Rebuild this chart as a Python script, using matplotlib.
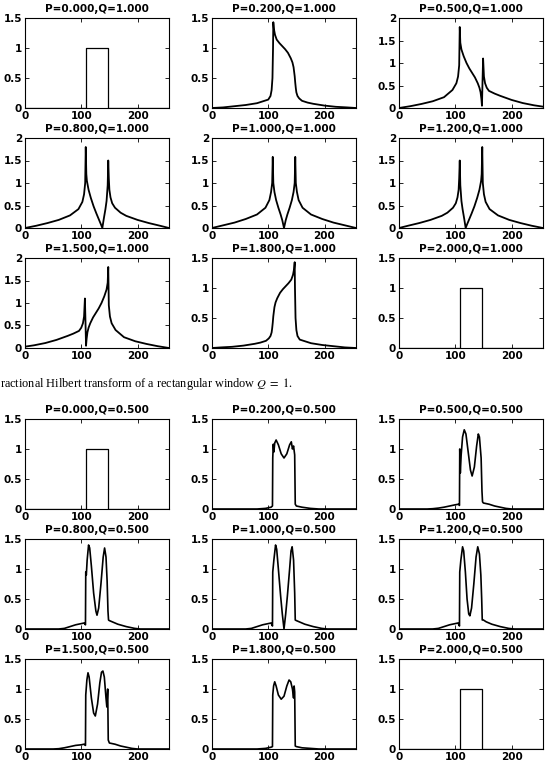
import numpy as np
import matplotlib.pyplot as plt

plt.rcParams['font.family'] = 'DejaVu Sans'
plt.rcParams['mathtext.fontset'] = 'stix'

# rectangular window (P=0 and P=2)
rect_x = [0, 108, 108, 148, 148, 256]
rect_y = [0, 0, 1, 1, 0, 0]

# ---------------- Q = 1.000 ----------------
q1_p02_x = [0, 20, 40, 60, 80, 90, 100, 104, 106, 107.5, 108.5, 109, 110, 112, 115, 120, 125, 130, 135, 140,
            143, 145, 147, 148, 149, 150, 152, 155, 160, 170, 180, 200, 220, 240, 256]
q1_p02_y = [0, 0.01, 0.03, 0.05, 0.08, 0.11, 0.14, 0.2, 0.3, 0.5, 1.0, 1.43, 1.32, 1.22, 1.14, 1.08, 1.03, 0.98, 0.92, 0.83,
            0.76, 0.68, 0.53, 0.42, 0.33, 0.26, 0.2, 0.16, 0.12, 0.09, 0.07, 0.04, 0.02, 0.01, 0]

q1_p05_x = [0, 20, 40, 60, 80, 95, 102, 105, 107, 108, 109, 111, 115, 120, 125, 130, 135, 140, 143, 145,
            146.5, 147.5, 148.5, 149.5, 151, 153, 156, 160, 170, 180, 200, 220, 240, 256]
q1_p05_y = [0, 0.04, 0.09, 0.15, 0.24, 0.4, 0.55, 0.7, 0.95, 1.8, 1.45, 1.3, 1.15, 1.0, 0.88, 0.78, 0.68, 0.55, 0.45, 0.35,
            0.2, 0.05, 0.6, 1.1, 0.7, 0.55, 0.45, 0.38, 0.32, 0.27, 0.18, 0.11, 0.06, 0.03]

q1_p08_x = [0, 20, 40, 60, 80, 95, 102, 105, 107, 108, 109, 110, 113, 117, 122, 127, 132, 135, 137.5, 140,
            143, 145, 147, 148, 149, 150, 152, 155, 160, 170, 180, 200, 220, 240, 256]
q1_p08_y = [0, 0.05, 0.11, 0.18, 0.28, 0.42, 0.58, 0.75, 1.0, 1.8, 1.2, 1.05, 0.85, 0.67, 0.48, 0.32, 0.17, 0.08, 0.0, 0.2,
            0.42, 0.6, 0.95, 1.5, 1.1, 0.85, 0.68, 0.55, 0.45, 0.34, 0.27, 0.18, 0.11, 0.05, 0]

q1_p10_x = [0, 20, 40, 60, 80, 95, 102, 105, 107, 108, 109, 111, 114, 118, 122, 125, 128, 131, 134, 138,
            142, 145, 147, 148, 149, 151, 154, 161, 176, 196, 216, 236, 256]
q1_p10_y = [0, 0.06, 0.12, 0.2, 0.3, 0.45, 0.62, 0.8, 1.0, 1.58, 1.0, 0.8, 0.62, 0.45, 0.3, 0.17, 0.0, 0.17, 0.3, 0.45,
            0.62, 0.8, 1.0, 1.58, 1.0, 0.8, 0.62, 0.45, 0.3, 0.2, 0.12, 0.06, 0]

q1_p12_x = [0, 16, 36, 56, 76, 86, 96, 101, 104, 106, 107, 108, 109, 111, 113, 116, 118.5, 121, 124, 129,
            134, 139, 143, 146, 147, 148, 149, 151, 154, 161, 176, 196, 216, 236, 256]
q1_p12_y = [0, 0.05, 0.11, 0.18, 0.27, 0.34, 0.45, 0.55, 0.68, 0.85, 1.1, 1.5, 0.95, 0.6, 0.42, 0.2, 0.0, 0.08, 0.17, 0.32,
            0.48, 0.67, 0.85, 1.05, 1.2, 1.8, 1.0, 0.75, 0.58, 0.42, 0.28, 0.18, 0.11, 0.05, 0]

q1_p15_x = [0, 16, 36, 56, 76, 86, 96, 100, 103, 105, 106.5, 107.5, 108.5, 109.5, 111, 113, 116, 121, 126, 131,
            136, 141, 145, 147, 148, 149, 151, 154, 161, 176, 196, 216, 236, 256]
q1_p15_y = [0.03, 0.06, 0.11, 0.18, 0.27, 0.32, 0.38, 0.45, 0.55, 0.7, 1.1, 0.6, 0.05, 0.2, 0.35, 0.45, 0.55, 0.68, 0.78, 0.88,
            1.0, 1.15, 1.3, 1.45, 1.8, 0.95, 0.7, 0.55, 0.4, 0.24, 0.15, 0.09, 0.04, 0]

q1_p18_x = [0, 16, 36, 56, 76, 86, 96, 101, 104, 106, 107, 108, 109, 111, 113, 116, 121, 126, 131, 136,
            141, 144, 146, 147, 147.5, 148.5, 150, 152, 156, 166, 176, 196, 216, 236, 256]
q1_p18_y = [0, 0.01, 0.02, 0.04, 0.07, 0.09, 0.12, 0.16, 0.2, 0.26, 0.33, 0.42, 0.53, 0.68, 0.76, 0.83, 0.92, 0.98, 1.03, 1.08,
            1.14, 1.22, 1.32, 1.43, 1.0, 0.5, 0.3, 0.2, 0.14, 0.11, 0.08, 0.05, 0.03, 0.01, 0]

# ---------------- Q = 0.500 ----------------
q05_p02_x = [0, 80, 95, 105, 107.5, 108, 109, 110, 111.5, 114, 118, 123, 128, 133, 138, 141, 143, 145, 147, 148,
             150, 160, 175, 190, 256]
q05_p02_y = [0, 0, 0.01, 0.03, 0.05, 0.85, 1.08, 0.95, 1.1, 1.15, 1.07, 0.92, 0.85, 0.92, 1.07, 1.12, 1.0, 1.05, 0.9, 0.08,
             0.05, 0.03, 0.01, 0, 0]

q05_p05_x = [0, 50, 60, 70, 80, 90, 100, 106, 107.5, 108, 109, 110.5, 113, 116, 119, 123, 127, 130, 134, 138,
             141, 143, 146, 147.5, 148.5, 150, 160, 170, 180, 190, 200, 256]
q05_p05_y = [0, 0, 0.005, 0.015, 0.03, 0.05, 0.07, 0.08, 0.06, 1.0, 0.6, 0.9, 1.2, 1.32, 1.25, 0.95, 0.65, 0.55, 0.7, 1.05,
             1.25, 1.2, 0.85, 0.3, 0.12, 0.1, 0.08, 0.05, 0.03, 0.01, 0, 0]

q05_p08_x = [0, 60, 70, 80, 90, 100, 105, 107.5, 108, 109, 110.5, 113, 115, 118, 122, 126, 128, 131, 135, 139,
             141.5, 144, 146, 147.5, 148.5, 150, 155, 165, 180, 195, 205, 256]
q05_p08_y = [0, 0, 0.01, 0.04, 0.07, 0.09, 0.1, 0.07, 0.95, 0.9, 1.15, 1.4, 1.35, 1.05, 0.6, 0.3, 0.23, 0.35, 0.75, 1.2,
             1.35, 1.2, 0.8, 0.3, 0.15, 0.14, 0.12, 0.08, 0.04, 0.01, 0, 0]

q05_p10_x = [0, 60, 70, 80, 90, 100, 105, 107.5, 108, 110, 113, 115, 118, 122, 125, 128, 131, 134, 138, 140.5,
             142.5, 145, 147, 148, 150, 155, 165, 180, 195, 205, 256]
q05_p10_y = [0, 0, 0.01, 0.04, 0.07, 0.09, 0.1, 0.05, 0.95, 1.15, 1.4, 1.33, 1.0, 0.55, 0.25, 0.0, 0.25, 0.55, 1.0, 1.3,
             1.37, 1.15, 0.6, 0.15, 0.14, 0.12, 0.08, 0.04, 0.01, 0, 0]

q05_p12_x = [0, 60, 70, 80, 90, 100, 105, 107.5, 108, 110, 113, 115, 118, 121, 124, 126, 129, 133, 137, 140,
             143, 145.5, 147, 148, 150, 155, 165, 180, 195, 205, 256]
q05_p12_y = [0, 0, 0.01, 0.04, 0.07, 0.09, 0.1, 0.05, 0.95, 1.15, 1.37, 1.3, 0.95, 0.5, 0.25, 0.22, 0.35, 0.75, 1.2, 1.37,
             1.25, 0.9, 0.5, 0.15, 0.15, 0.12, 0.08, 0.04, 0.01, 0, 0]

q05_p15_x = [0, 50, 60, 70, 80, 90, 100, 105, 107.5, 108, 110, 112, 114, 118, 122, 125, 129, 133, 136, 138.5,
             141, 144, 145.5, 147, 148, 150, 160, 170, 180, 190, 200, 256]
q05_p15_y = [0, 0, 0.005, 0.02, 0.04, 0.06, 0.07, 0.08, 0.06, 0.9, 1.15, 1.27, 1.2, 0.85, 0.6, 0.55, 0.75, 1.1, 1.28, 1.3,
             1.2, 0.85, 0.7, 1.0, 0.15, 0.1, 0.08, 0.05, 0.03, 0.01, 0, 0]

q05_p18_x = [0, 80, 95, 105, 107.5, 108, 109.5, 111.5, 114, 118, 123, 128, 133, 137, 140, 143, 145, 146, 147, 148,
             150, 160, 175, 190, 256]
q05_p18_y = [0, 0, 0.01, 0.03, 0.04, 0.9, 1.05, 1.12, 1.05, 0.9, 0.83, 0.88, 1.05, 1.15, 1.12, 1.0, 0.85, 1.05, 0.95, 0.05,
             0.04, 0.02, 0.01, 0, 0]

p_values = [0.0, 0.2, 0.5, 0.8, 1.0, 1.2, 1.5, 1.8, 2.0]

q1_curves = [(rect_x, rect_y), (q1_p02_x, q1_p02_y), (q1_p05_x, q1_p05_y),
             (q1_p08_x, q1_p08_y), (q1_p10_x, q1_p10_y), (q1_p12_x, q1_p12_y),
             (q1_p15_x, q1_p15_y), (q1_p18_x, q1_p18_y), (rect_x, rect_y)]
q1_ymax = [1.5, 1.5, 2, 2, 2, 2, 2, 1.5, 1.5]

q05_curves = [(rect_x, rect_y), (q05_p02_x, q05_p02_y), (q05_p05_x, q05_p05_y),
              (q05_p08_x, q05_p08_y), (q05_p10_x, q05_p10_y), (q05_p12_x, q05_p12_y),
              (q05_p15_x, q05_p15_y), (q05_p18_x, q05_p18_y), (rect_x, rect_y)]
q05_ymax = [1.5] * 9

W, H = 555, 775
fig = plt.figure(figsize=(W / 100, H / 100), dpi=100)

col_left = [25, 212, 399]
ax_w, ax_h = 144, 90


def tick_txt(v):
    return '%g' % v


def panel(left, top, x, y, title, ymax, lw):
    ax = fig.add_axes([left / W, 1 - (top + ax_h) / H, ax_w / W, ax_h / H])
    ax.plot(x, y, color='k', lw=lw)
    ax.set_xlim(0, 256)
    ax.set_ylim(0, ymax)
    ax.set_xticks([0, 100, 200])
    yt = np.arange(0, ymax + 0.01, 0.5)
    ax.set_yticks(yt)
    ax.set_yticklabels([tick_txt(v) for v in yt])
    ax.tick_params(direction='in', top=True, right=True, length=3, width=0.6,
                   labelsize=7.5, pad=2)
    for lab in ax.get_xticklabels() + ax.get_yticklabels():
        lab.set_fontweight('bold')
    for s in ax.spines.values():
        s.set_linewidth(0.8)
    ax.set_title(title, fontsize=7.5, fontweight='bold', pad=4)


# upper block (Q = 1)
for k in range(9):
    r, c = divmod(k, 3)
    x, y = q1_curves[k]
    lw = 0.9 if k in (0, 8) else 1.3
    panel(col_left[c], 18 + 120 * r, x, y, 'P=%.3f,Q=%.3f' % (p_values[k], 1.0), q1_ymax[k], lw)

fig.text(0, 1 - 384 / H, r'ractional Hilbert transform of a rectangular window $Q\;=\;1$.',
         fontfamily='Liberation Serif', fontsize=8.8, va='center', ha='left')

# lower block (Q = 0.5)
for k in range(9):
    r, c = divmod(k, 3)
    x, y = q05_curves[k]
    lw = 0.9 if k in (0, 8) else 1.2
    panel(col_left[c], 419 + 120 * r, x, y, 'P=%.3f,Q=%.3f' % (p_values[k], 0.5), q05_ymax[k], lw)

fig.savefig('out.png', dpi=100)
